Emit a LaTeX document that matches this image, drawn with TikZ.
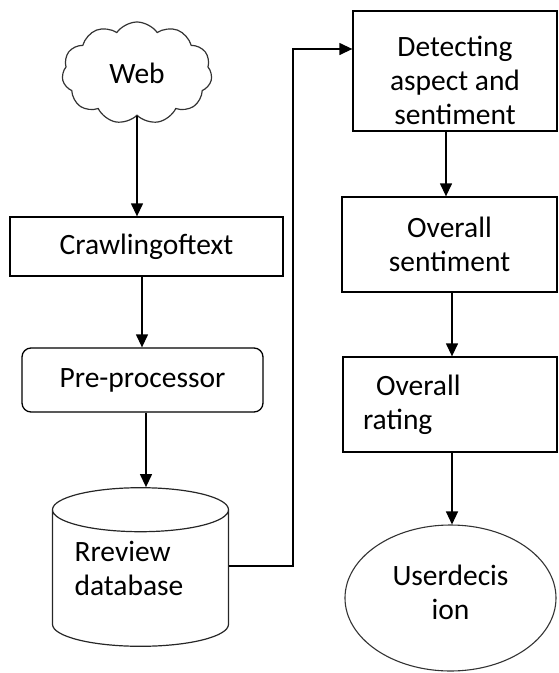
\documentclass[tikz,border=0pt]{standalone}
\usepackage{fontspec}
\setmainfont{Carlito}
\usetikzlibrary{shapes,arrows.meta,positioning}

\begin{document}
\begin{tikzpicture}[x=1pt, y=-1pt, align=center, font=\fontsize{29.5}{34}\selectfont]
    \tikzset{
        box/.style      =   { rectangle
                            , draw=black
                            , line width=1.3pt
                            , inner sep=0pt
        }
        , arrow/.style  =   { line width=1.3pt
                            , -{Triangle[width=12pt, length=13pt]}
        }
    }
    \useasboundingbox (0,0) rectangle (558,673);

    \node(web)[cloud, draw=black!80, line width=1.2pt, cloud puffs=11, cloud puff arc=110,
               aspect=1.45, minimum width=150pt, minimum height=102pt, inner sep=0pt]
               at (137,73) {Web};
    \node(crawl)[box, minimum width=273pt, minimum height=59pt] at (146.5,246.5) {Crawlingoftext};
    \node(pre)[box, rounded corners=9pt, minimum width=241pt, minimum height=64pt]
               at (142.5,380) {Pre-processor};
    \node(db)[cylinder, shape border rotate=90, aspect=0.25, draw=black!85, line width=1.2pt,
              inner xsep=88pt, inner ysep=57pt, anchor=shape center] at (140.5,567) {};
    \node(dbtxt)[anchor=west, align=left] at (71,568) {Rreview\\database};

    \node(detect)[box, minimum width=204pt, minimum height=120pt,
                  label={[yshift=-9pt]center:{Detecting\\aspect and\\sentiment}}] at (455,71) {};
    \node(osent)[box, minimum width=215pt, minimum height=95pt] at (449.5,244.5)
                {Overall\\sentiment};
    \node(orate)[box, minimum width=214pt, minimum height=95pt, text width=174pt,
                 inner xsep=20pt, align=left] at (450,404.5)
                {\hspace*{13pt}Overall\\rating};
    \node(user)[ellipse, draw=black!80, line width=1.1pt, minimum width=211pt,
                minimum height=146pt, inner sep=0pt,
                label={[yshift=6pt]center:{Userdecis\\ion}}] at (450.5,598) {};

    \coordinate(bend) at (293,49);

    \draw[arrow] (web.south) -- (web.south |- crawl.north);
    \draw[arrow] ([xshift=-4.5pt]crawl.south) -- ([xshift=-4.5pt]crawl.south |- pre.north);
    \draw[arrow] ([xshift=3.5pt]pre.south) -- ([xshift=3.5pt]pre.south |- db.north);
    \draw[line width=1.3pt, -{Triangle[width=12pt, length=13pt]}]
        ([yshift=1pt]db.shape center -| db.east) -| (bend) -- (detect.west |- bend);
    \draw[arrow] ([xshift=-9pt]detect.south) -- ([xshift=-9pt]detect.south |- osent.north);
    \draw[arrow] ([xshift=2.5pt]osent.south) -- ([xshift=2.5pt]osent.south |- orate.north);
    \draw[arrow] ([xshift=2pt]orate.south) -- ([xshift=2pt]orate.south |- user.north);
\end{tikzpicture}
\end{document}
